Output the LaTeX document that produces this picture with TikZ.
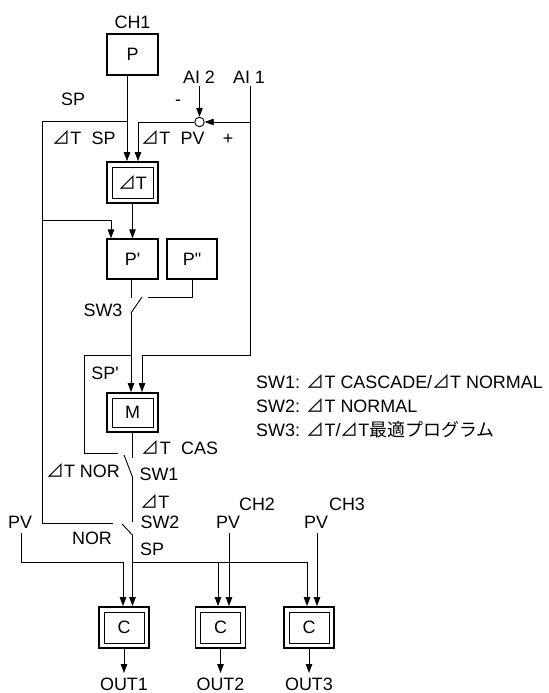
\documentclass[tikz,border=0pt]{standalone}
\usepackage{fontspec}
\setmainfont{Liberation Sans}[Ligatures=TeXOff]
\newfontfamily\jpfont{Noto Sans CJK JP}
\usetikzlibrary{arrows.meta}
\newcommand\tri{{\jpfont ⊿}}
\tikzset{
  box/.style={draw, line width=1.3bp, minimum width=51bp, minimum height=41bp, inner sep=0pt},
  dbox/.style={box, line width=1.8bp, path picture={\draw[line width=0.9bp]
     ([xshift=5bp,yshift=-5bp]path picture bounding box.north west) rectangle
     ([xshift=-5bp,yshift=5bp]path picture bounding box.south east);}},
  lbl/.style={anchor=base, inner sep=0pt},
  wire/.style={line width=0.9bp},
  arr/.style={wire, -{Triangle[length=9bp,width=6.5bp]}},
}
\begin{document}
\begin{tikzpicture}[x=1bp,y=-1bp, every node/.append style={font=\fontsize{18}{22}\selectfont}]
\useasboundingbox (0,0) rectangle (549,693);
% boxes
\node[box] (P) at (132.5,54.5) {P};
\node[dbox] (dT) at (132.5,182.5) {\tri T};
\node[box, minimum height=40bp] (Pp) at (132.5,259) {P'};
\node[box, minimum width=50bp, minimum height=40bp] (Ppp) at (192,259) {P"};
\node[dbox, minimum height=39bp] (M) at (132.5,412.5) {M};
\node[dbox, minimum width=50bp] (C1) at (124,627.5) {C};
\node[dbox, minimum width=50bp] (C2) at (220.5,627.5) {C};
\node[dbox, minimum width=50bp] (C3) at (309,627.5) {C};
\node[draw, circle, wire, minimum size=9.5bp, inner sep=0pt] (sum) at (199.5,122) {};
% labels
\node[lbl] (ch1) at (132.5,28.5) {CH1};
\node[lbl] (ai2) at (199,83.5) {AI 2};
\node[lbl] (ai1) at (249,83.5) {AI 1};
\node[lbl] (spl) at (73,105.5) {SP};
\node[lbl] (minus) at (178,105.5) {-};
\node[lbl] (dtsp) at (84,144.5) {\tri T\hspace{0.3em} SP};
\node[lbl] (dtpv) at (173,144.5) {\tri T\hspace{0.3em} PV};
\node[lbl] (plus) at (228,144.5) {+};
\node[lbl] (sw3l) at (103,316.5) {SW3};
\node[lbl] (spp) at (105,379.5) {SP'};
\node[lbl] (dtcas) at (180,454.5) {\tri T\hspace{0.3em} CAS};
\node[lbl] (sw1l) at (159,480.5) {SW1};
\node[lbl] (dtnor) at (83,477.5) {\tri T NOR};
\node[lbl] (dt2) at (155,508.5) {\tri T};
\node[lbl] (sw2l) at (160,528.5) {SW2};
\node[lbl] (pv1) at (20,528.5) {PV};
\node[lbl] (nor) at (92,544.5) {NOR};
\node[lbl] (spb2) at (152,555.5) {SP};
\node[lbl] (pv2) at (228,528.5) {PV};
\node[lbl] (ch2) at (257,510.5) {CH2};
\node[lbl] (pv3) at (316,528.5) {PV};
\node[lbl] (ch3) at (347,510.5) {CH3};
\node[lbl] (out1) at (124,690) {OUT1};
\node[lbl] (out2) at (220.5,690) {OUT2};
\node[lbl] (out3) at (309,690) {OUT3};
\node[lbl, anchor=base west] (lg1) at (256,388) {SW1: \tri T CASCADE/\tri T NORMAL};
\node[lbl, anchor=base west] (lg2) at (256,412) {SW2: \tri T NORMAL};
\node[lbl, anchor=base west] (lg3) at (256,436) {SW3: \tri T/\tri T{\jpfont 最適プログラム}};
% coordinates
\coordinate (j1) at (127,121);
\coordinate (lt) at (42,121);
\coordinate (lpp) at (42,220);
\coordinate (lb) at (42,523);
\coordinate (sw2nor) at (113,523);
\coordinate (ppin) at (111,220);
\coordinate (ai2t) at (199.5,86);
\coordinate (ai1t) at (250,86);
\coordinate (ai1j) at (250,122);
\coordinate (ai1c) at (250,355);
\coordinate (mpv) at (142,355);
\coordinate (pvc) at (138,122);
\coordinate (sw3a) at (131,298);
\coordinate (sw3p) at (131,313);
\coordinate (sw3t) at (142,297);
\coordinate (sw3b) at (192,297);
\coordinate (sw3c) at (148,297);
\coordinate (spj) at (131,355);
\coordinate (spl1) at (84,355);
\coordinate (spl2) at (84,453);
\coordinate (sw1nor) at (118,453);
\coordinate (sw1cas) at (132.5,458);
\coordinate (sw1t) at (124,455);
\coordinate (sw1p) at (132.5,477);
\coordinate (sw2dt) at (132.5,522);
\coordinate (sw2t) at (122,524);
\coordinate (sw2p) at (132.5,535);
\coordinate (spb) at (132.5,562);
\coordinate (spm) at (218,562);
\coordinate (spr) at (307,562);
\coordinate (pv1t) at (21,533);
\coordinate (pv1b) at (21,562);
\coordinate (pv1c) at (123,562);
\coordinate (pv2t) at (229,533);
\coordinate (pv3t) at (317,533);
\coordinate (o1) at (124,673);
\coordinate (o2) at (220.5,673);
\coordinate (o3) at (309,673);
% connectors
\draw[arr] (P.south -| j1) -- (dT.north -| j1);
\draw[wire] (j1) -- (lt) -- (lb) -- (sw2nor);
\draw[arr] (lpp) -- (ppin) -- (Pp.north -| ppin);
\draw[arr] (ai2t) -- (sum.north);
\draw[arr] (ai1j) -- (sum.east);
\draw[arr] (ai1t) -- (ai1c) -- (mpv) -- (M.north -| mpv);
\draw[arr] (sum.west) -- (pvc) -- (dT.north -| pvc);
\draw[arr] (dT.south) -- (Pp.north);
\draw[wire] (Pp.south -| sw3a) -- (sw3a);
\draw[wire] (sw3p) -- (sw3t);
\draw[wire] (Ppp.south) -- (sw3b) -- (sw3c);
\draw[arr] (sw3p) -- (M.north -| sw3p);
\draw[wire] (spj) -- (spl1) -- (spl2) -- (sw1nor);
\draw[wire] (M.south) -- (sw1cas);
\draw[wire] (sw1t) -- (sw1p) -- (sw2dt);
\draw[wire] (sw2t) -- (sw2p);
\draw[arr] (sw2p) -- (C1.north -| sw2p);
\draw[arr] (spb) -- (spr) -- (C3.north -| spr);
\draw[arr] (spm) -- (C2.north -| spm);
\draw[arr] (pv1t) -- (pv1b) -- (pv1c) -- (C1.north -| pv1c);
\draw[arr] (pv2t) -- (C2.north -| pv2t);
\draw[arr] (pv3t) -- (C3.north -| pv3t);
\draw[arr] (C1.south) -- (o1);
\draw[arr] (C2.south) -- (o2);
\draw[arr] (C3.south) -- (o3);
\end{tikzpicture}
\end{document}
